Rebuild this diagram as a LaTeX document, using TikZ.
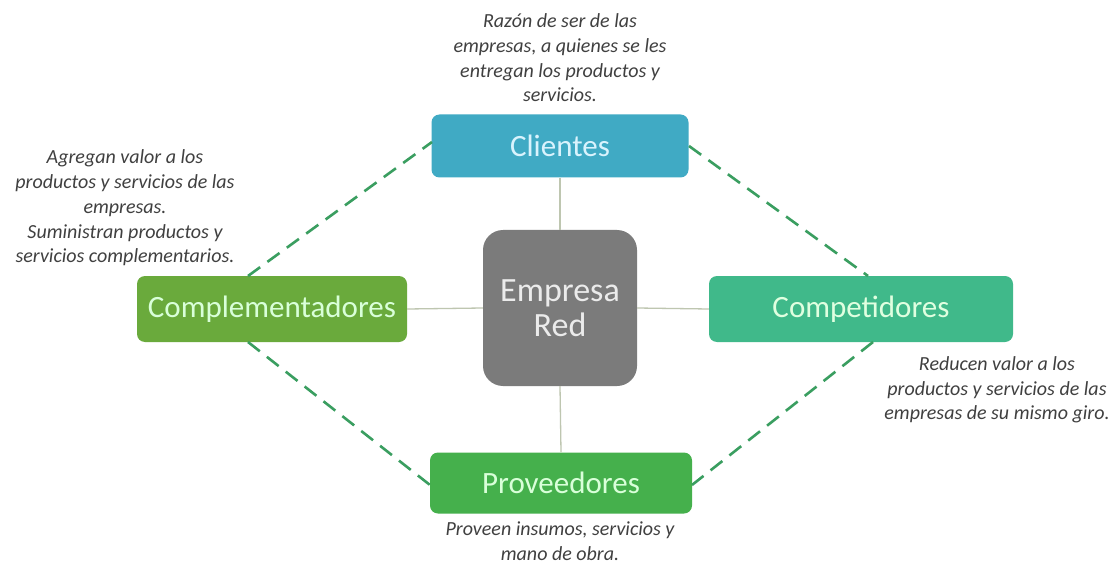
\documentclass[tikz,border=0pt]{standalone}
\usepackage{fontspec}
\setmainfont{Carlito}
\begin{document}
\begin{tikzpicture}[x=1pt,y=-1pt,
  box/.style={rounded corners=8pt, minimum height=63pt, font=\fontsize{31}{33}\selectfont, inner sep=0pt},
  note/.style={align=center, font=\fontsize{20}{24.7}\selectfont\itshape, text=black!75},
  dashlink/.style={draw=dashgreen, line width=2.6pt, dash pattern=on 15pt off 9pt},
  solidlink/.style={draw=linkgrey, line width=1.3pt}]
\definecolor{cli}{RGB}{64,170,196}
\definecolor{com}{RGB}{106,170,60}
\definecolor{cmp}{RGB}{64,185,138}
\definecolor{pro}{RGB}{69,176,76}
\definecolor{emp}{RGB}{123,123,123}
\definecolor{dashgreen}{RGB}{58,158,96}
\definecolor{linkgrey}{RGB}{190,198,176}
\useasboundingbox (0,0) rectangle (1118,569);
\fill[white] (0,0) rectangle (1118,569);
% boxes
\node[box, fill=cli, text=cyan!15, minimum width=257pt] (cl) at (560,146) {Clientes};
\node[box, fill=com, text=green!15, minimum width=270pt, minimum height=66pt] (co) at (272,309) {Complementadores};
\node[box, fill=cmp, text=green!12, minimum width=304pt, minimum height=66pt] (ct) at (861,309) {Competidores};
\node[box, fill=pro, text=green!15, minimum width=262pt, minimum height=61pt] (pr) at (561,483) {Proveedores};
\node[rounded corners=20pt, fill=emp, text=white!92!black, minimum width=154pt, minimum height=156pt, align=center, inner sep=0pt, font=\fontsize{34}{35}\selectfont] (er) at (560,308) {Empresa\\Red};
% solid links
\draw[solidlink] (cl.south) -- (er.north);
\draw[solidlink] (er.south) -- (pr.north);
\draw[solidlink] (co.east) -- (er.west);
\draw[solidlink] (er.east) -- (ct.west);
% dashed links
\coordinate (coT) at (248,276);
\coordinate (coB) at (248,342);
\coordinate (ctT) at (868,276);
\coordinate (ctB) at (873,342);
\coordinate (clL) at (432,142);
\coordinate (clR) at (689,146);
\coordinate (prL) at (430,485);
\coordinate (prR) at (692,485);
\draw[dashlink] (coT) -- (clL);
\draw[dashlink] (clR) -- (ctT);
\draw[dashlink] (ctB) -- (prR);
\draw[dashlink] (coB) -- (prL);
% notes
\node[note] (n1) at (560,58) {Razón de ser de las\\empresas, a quienes se les\\entregan los productos y\\servicios.};
\node[note] (n2) at (125,208) {Agregan valor a los\\productos y servicios de las\\empresas.\\Suministran productos y\\servicios complementarios.};
\node[note] (n3) at (997,390) {Reducen valor a los\\productos y servicios de las\\empresas de su mismo giro.};
\node[note] (n4) at (560,541) {Proveen insumos, servicios y\\mano de obra.};
\end{tikzpicture}
\end{document}
